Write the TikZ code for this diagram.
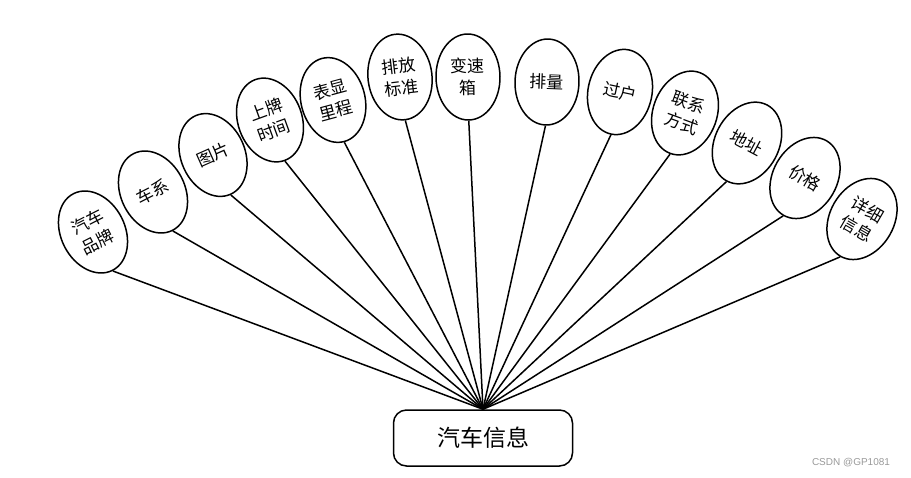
\documentclass[tikz,border=0pt]{standalone}
\usepackage{fontspec}
\setmainfont{Noto Sans CJK SC}
\newfontfamily\wmfont{Liberation Sans}
\usetikzlibrary{shapes.geometric}
\tikzset{
  attr/.style={ellipse, draw, line width=1.5pt, inner sep=0pt, minimum width=64, minimum height=86, align=center, font=\fontsize{17}{22}\selectfont},
  link/.style={line width=1.5pt},
  entity/.style={draw, line width=1.5pt, rounded corners=13pt, minimum width=179, minimum height=56, font=\fontsize{23}{26}\selectfont}
}
\begin{document}
\begin{tikzpicture}[x=1pt,y=-1pt]
\useasboundingbox (0,0) rectangle (911,477);
\node[entity] (main) at (483,438) {汽车信息};
\coordinate (hub) at (main.north);
\node[attr, rotate=27] (a1) at (93,232) {汽车\\品牌};
\node[attr, rotate=27] (a2) at (153,192) {车系};
\node[attr, rotate=24] (a3) at (213,155) {图片};
\node[attr, rotate=20] (a4) at (270,120) {上牌\\时间};
\node[attr, rotate=15] (a5) at (333,100) {表显\\里程};
\node[attr, rotate=7] (a6) at (400,77) {排放\\标准};
\node[attr, rotate=1] (a7) at (468,77) {变速\\箱};
\node[attr, rotate=-2] (a8) at (547,82) {排量};
\node[attr, rotate=-12] (a9) at (620,92) {过户};
\node[attr, rotate=-20] (a10) at (685,113) {联系\\方式};
\node[attr, rotate=-28] (a11) at (747,143) {地址};
\node[attr, rotate=-30] (a12) at (805,178) {价格};
\node[attr, rotate=-30] (a13) at (862,219) {详细\\信息};
\foreach \n in {a1,a2,a3,a4,a5,a6,a7,a8,a9,a10,a11,a12,a13}
  \draw[link] (\n.south) -- (hub);
\node[font=\wmfont\fontsize{10}{12}\selectfont, text=black!40] (wm) at (851,463) {CSDN @GP1081};
\end{tikzpicture}
\end{document}
